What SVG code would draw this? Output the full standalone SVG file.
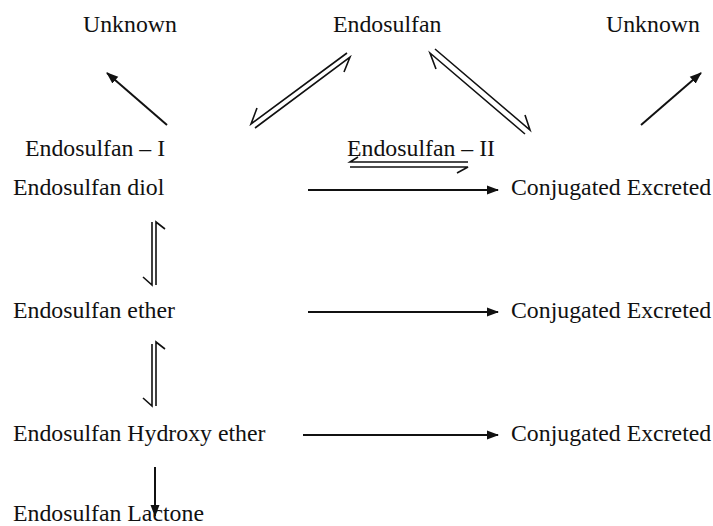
<svg xmlns="http://www.w3.org/2000/svg" width="713" height="526" viewBox="0 0 713 526">
<style>
text{font-family:"Liberation Serif","Times New Roman",serif;font-size:23.8px;fill:#111}
.l{stroke:#111;stroke-width:1.6;fill:none}
.a{stroke:#111;stroke-width:2;fill:none}
</style>
<defs>
<marker id="ah" markerWidth="12" markerHeight="10" refX="11" refY="5" orient="auto" markerUnits="userSpaceOnUse">
<path d="M0,0.5 L12,5 L0,9.5 z" fill="#111"/>
</marker>
</defs>
<rect width="713" height="526" fill="#fff"/>
<g id="n-unknown-left"><text x="83" y="32">Unknown</text></g>
<g id="n-endosulfan"><text x="333" y="32">Endosulfan</text></g>
<g id="n-unknown-right"><text x="606" y="32">Unknown</text></g>
<g id="n-endo-i"><text x="25" y="156">Endosulfan – I</text></g>
<g id="n-endo-ii"><text x="347" y="156">Endosulfan – II</text></g>
<g id="n-diol"><text x="13" y="195">Endosulfan diol</text></g>
<g id="n-ether"><text x="13" y="318">Endosulfan ether</text></g>
<g id="n-hydroxy"><text x="13" y="441">Endosulfan Hydroxy ether</text></g>
<g id="n-lactone"><text x="13" y="521">Endosulfan Lactone</text></g>
<g id="n-conj1"><text x="511" y="195">Conjugated Excreted</text></g>
<g id="n-conj2"><text x="511" y="318">Conjugated Excreted</text></g>
<g id="n-conj3"><text x="511" y="441">Conjugated Excreted</text></g>
<g id="connectors">
<path class="l" d="M347,53 L251,124 L257,108"/>
<path class="l" d="M255,128 L350,57 L344,72"/>
<path class="l" d="M435,49 L530,130 L525,115"/>
<path class="l" d="M525,134 L430,53 L436,69"/>
<path class="l" d="M358,157 L350,162 L468,162"/>
<path class="l" d="M350,167 L468,167 L457,173"/>
<path class="l" d="M152,222 L152,285 L143,277"/>
<path class="l" d="M156,285 L156,222 L165,229"/>
<path class="l" d="M152,344 L152,406 L143,398"/>
<path class="l" d="M156,406 L156,342 L165,349"/>
<line class="a" x1="167" y1="125" x2="107" y2="73" marker-end="url(#ah)"/>
<line class="a" x1="641" y1="125" x2="701" y2="73" marker-end="url(#ah)"/>
<line class="a" x1="308" y1="190" x2="498" y2="190" marker-end="url(#ah)"/>
<line class="a" x1="308" y1="312" x2="498" y2="312" marker-end="url(#ah)"/>
<line class="a" x1="303" y1="435" x2="498" y2="435" marker-end="url(#ah)"/>
<line class="a" x1="155" y1="467" x2="155" y2="516" marker-end="url(#ah)"/>
</g>
</svg>
